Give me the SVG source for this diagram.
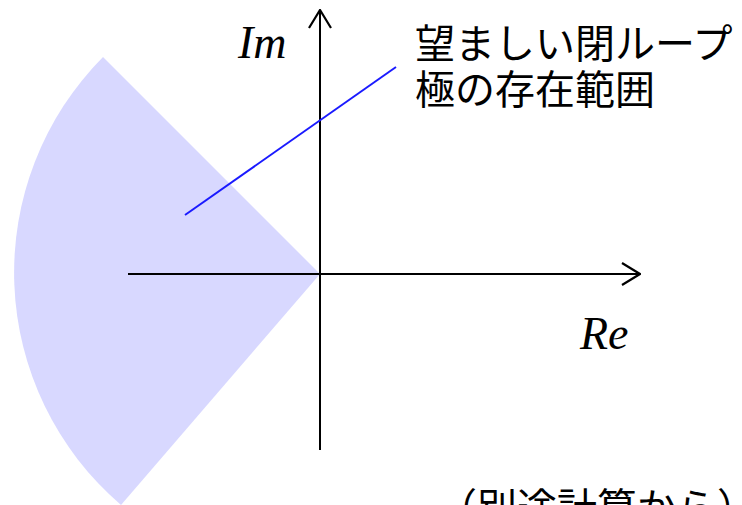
<svg xmlns="http://www.w3.org/2000/svg" width="742" height="505" viewBox="0 0 742 505">
<style>
.axis{stroke:#000;stroke-width:2;fill:none}
.lbl{font-family:"Liberation Serif",serif;font-style:italic;font-size:46px;fill:#000}
.jp{font-family:"Liberation Sans","Noto Sans CJK JP",sans-serif;font-size:40px;fill:#000}
</style>
<defs>
<marker id="arr" viewBox="0 0 20 24" refX="19" refY="12" markerWidth="20" markerHeight="24" markerUnits="userSpaceOnUse" orient="auto">
<path d="M1,1 L19,12 L1,23" fill="none" stroke="#000" stroke-width="2.2"/>
</marker>
</defs>
<g id="region">
<path d="M320,274 L103,57 A306,306 0 0 0 121,505 Z" fill="#d8d8ff"/>
</g>
<g id="connectors">
<line class="axis" x1="320" y1="450" x2="320" y2="10" marker-end="url(#arr)"/>
<line class="axis" x1="128" y1="274" x2="640" y2="274" marker-end="url(#arr)"/>
<line x1="185" y1="215" x2="396" y2="67" stroke="#1a1aff" stroke-width="2"/>
</g>
<g id="im"><text class="lbl" x="238" y="58">Im</text></g>
<g id="re"><text class="lbl" x="580" y="349">Re</text></g>
<g id="note">
<text class="jp" x="415" y="58">望ましい閉ループ</text>
<text class="jp" x="415" y="104">極の存在範囲</text>
</g>
<g id="note2"><text class="jp" x="437" y="522">（別途計算から）</text></g>
</svg>
